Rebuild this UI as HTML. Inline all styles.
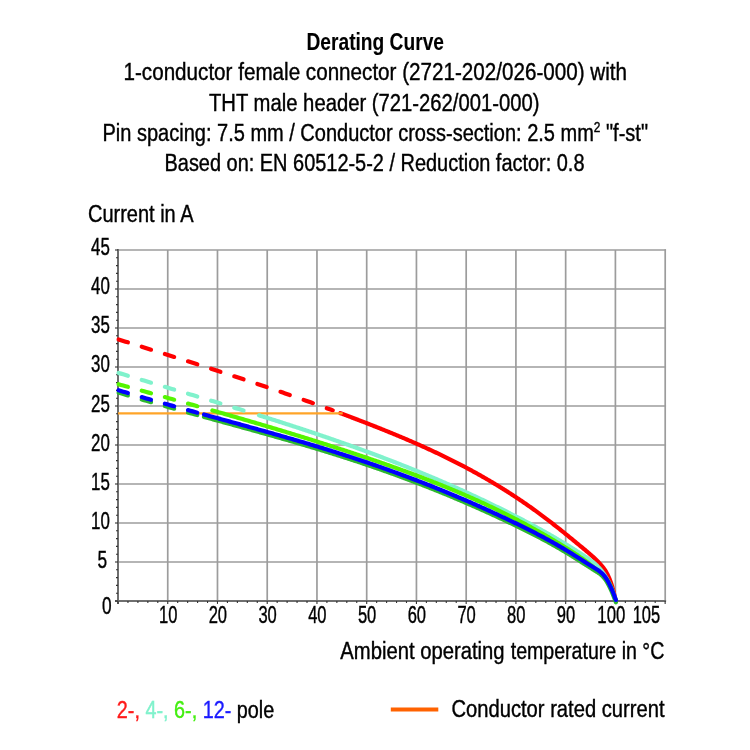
<!DOCTYPE html>
<html><head><meta charset="utf-8"><style>
html,body{margin:0;padding:0;background:#fff;}
svg{display:block;will-change:transform;}
text{font-family:"Liberation Sans", sans-serif;}
.t{stroke:#000;stroke-width:0.25px;}
</style></head><body>
<svg width="750" height="750" viewBox="0 0 750 750">
<rect width="750" height="750" fill="#fff"/>
<line x1="167.74" y1="250.00" x2="167.74" y2="601.00" stroke="#9c9c9c" stroke-width="1.7"/>
<line x1="217.48" y1="250.00" x2="217.48" y2="601.00" stroke="#9c9c9c" stroke-width="1.7"/>
<line x1="267.22" y1="250.00" x2="267.22" y2="601.00" stroke="#9c9c9c" stroke-width="1.7"/>
<line x1="316.96" y1="250.00" x2="316.96" y2="601.00" stroke="#9c9c9c" stroke-width="1.7"/>
<line x1="366.70" y1="250.00" x2="366.70" y2="601.00" stroke="#9c9c9c" stroke-width="1.7"/>
<line x1="416.44" y1="250.00" x2="416.44" y2="601.00" stroke="#9c9c9c" stroke-width="1.7"/>
<line x1="466.18" y1="250.00" x2="466.18" y2="601.00" stroke="#9c9c9c" stroke-width="1.7"/>
<line x1="515.92" y1="250.00" x2="515.92" y2="601.00" stroke="#9c9c9c" stroke-width="1.7"/>
<line x1="565.66" y1="250.00" x2="565.66" y2="601.00" stroke="#9c9c9c" stroke-width="1.7"/>
<line x1="615.40" y1="250.00" x2="615.40" y2="601.00" stroke="#9c9c9c" stroke-width="1.7"/>
<line x1="665.20" y1="249.15" x2="665.20" y2="601.00" stroke="#9c9c9c" stroke-width="1.7"/>
<line x1="118.00" y1="562.00" x2="666.05" y2="562.00" stroke="#9c9c9c" stroke-width="1.7"/>
<line x1="118.00" y1="523.00" x2="666.05" y2="523.00" stroke="#9c9c9c" stroke-width="1.7"/>
<line x1="118.00" y1="484.00" x2="666.05" y2="484.00" stroke="#9c9c9c" stroke-width="1.7"/>
<line x1="118.00" y1="445.00" x2="666.05" y2="445.00" stroke="#9c9c9c" stroke-width="1.7"/>
<line x1="118.00" y1="406.00" x2="666.05" y2="406.00" stroke="#9c9c9c" stroke-width="1.7"/>
<line x1="118.00" y1="367.00" x2="666.05" y2="367.00" stroke="#9c9c9c" stroke-width="1.7"/>
<line x1="118.00" y1="328.00" x2="666.05" y2="328.00" stroke="#9c9c9c" stroke-width="1.7"/>
<line x1="118.00" y1="289.00" x2="666.05" y2="289.00" stroke="#9c9c9c" stroke-width="1.7"/>
<line x1="118.00" y1="250.00" x2="666.05" y2="250.00" stroke="#9c9c9c" stroke-width="1.7"/>
<line x1="118.00" y1="249.00" x2="118.00" y2="604.00" stroke="#6e6e6e" stroke-width="2"/>
<line x1="115.00" y1="601.00" x2="666.10" y2="601.00" stroke="#6e6e6e" stroke-width="2"/>
<line x1="115.00" y1="601.00" x2="118.00" y2="601.00" stroke="#333" stroke-width="1.1"/>
<line x1="116.00" y1="593.20" x2="118.00" y2="593.20" stroke="#333" stroke-width="1.1"/>
<line x1="116.00" y1="585.40" x2="118.00" y2="585.40" stroke="#333" stroke-width="1.1"/>
<line x1="116.00" y1="577.60" x2="118.00" y2="577.60" stroke="#333" stroke-width="1.1"/>
<line x1="116.00" y1="569.80" x2="118.00" y2="569.80" stroke="#333" stroke-width="1.1"/>
<line x1="115.00" y1="562.00" x2="118.00" y2="562.00" stroke="#333" stroke-width="1.1"/>
<line x1="116.00" y1="554.20" x2="118.00" y2="554.20" stroke="#333" stroke-width="1.1"/>
<line x1="116.00" y1="546.40" x2="118.00" y2="546.40" stroke="#333" stroke-width="1.1"/>
<line x1="116.00" y1="538.60" x2="118.00" y2="538.60" stroke="#333" stroke-width="1.1"/>
<line x1="116.00" y1="530.80" x2="118.00" y2="530.80" stroke="#333" stroke-width="1.1"/>
<line x1="115.00" y1="523.00" x2="118.00" y2="523.00" stroke="#333" stroke-width="1.1"/>
<line x1="116.00" y1="515.20" x2="118.00" y2="515.20" stroke="#333" stroke-width="1.1"/>
<line x1="116.00" y1="507.40" x2="118.00" y2="507.40" stroke="#333" stroke-width="1.1"/>
<line x1="116.00" y1="499.60" x2="118.00" y2="499.60" stroke="#333" stroke-width="1.1"/>
<line x1="116.00" y1="491.80" x2="118.00" y2="491.80" stroke="#333" stroke-width="1.1"/>
<line x1="115.00" y1="484.00" x2="118.00" y2="484.00" stroke="#333" stroke-width="1.1"/>
<line x1="116.00" y1="476.20" x2="118.00" y2="476.20" stroke="#333" stroke-width="1.1"/>
<line x1="116.00" y1="468.40" x2="118.00" y2="468.40" stroke="#333" stroke-width="1.1"/>
<line x1="116.00" y1="460.60" x2="118.00" y2="460.60" stroke="#333" stroke-width="1.1"/>
<line x1="116.00" y1="452.80" x2="118.00" y2="452.80" stroke="#333" stroke-width="1.1"/>
<line x1="115.00" y1="445.00" x2="118.00" y2="445.00" stroke="#333" stroke-width="1.1"/>
<line x1="116.00" y1="437.20" x2="118.00" y2="437.20" stroke="#333" stroke-width="1.1"/>
<line x1="116.00" y1="429.40" x2="118.00" y2="429.40" stroke="#333" stroke-width="1.1"/>
<line x1="116.00" y1="421.60" x2="118.00" y2="421.60" stroke="#333" stroke-width="1.1"/>
<line x1="116.00" y1="413.80" x2="118.00" y2="413.80" stroke="#333" stroke-width="1.1"/>
<line x1="115.00" y1="406.00" x2="118.00" y2="406.00" stroke="#333" stroke-width="1.1"/>
<line x1="116.00" y1="398.20" x2="118.00" y2="398.20" stroke="#333" stroke-width="1.1"/>
<line x1="116.00" y1="390.40" x2="118.00" y2="390.40" stroke="#333" stroke-width="1.1"/>
<line x1="116.00" y1="382.60" x2="118.00" y2="382.60" stroke="#333" stroke-width="1.1"/>
<line x1="116.00" y1="374.80" x2="118.00" y2="374.80" stroke="#333" stroke-width="1.1"/>
<line x1="115.00" y1="367.00" x2="118.00" y2="367.00" stroke="#333" stroke-width="1.1"/>
<line x1="116.00" y1="359.20" x2="118.00" y2="359.20" stroke="#333" stroke-width="1.1"/>
<line x1="116.00" y1="351.40" x2="118.00" y2="351.40" stroke="#333" stroke-width="1.1"/>
<line x1="116.00" y1="343.60" x2="118.00" y2="343.60" stroke="#333" stroke-width="1.1"/>
<line x1="116.00" y1="335.80" x2="118.00" y2="335.80" stroke="#333" stroke-width="1.1"/>
<line x1="115.00" y1="328.00" x2="118.00" y2="328.00" stroke="#333" stroke-width="1.1"/>
<line x1="116.00" y1="320.20" x2="118.00" y2="320.20" stroke="#333" stroke-width="1.1"/>
<line x1="116.00" y1="312.40" x2="118.00" y2="312.40" stroke="#333" stroke-width="1.1"/>
<line x1="116.00" y1="304.60" x2="118.00" y2="304.60" stroke="#333" stroke-width="1.1"/>
<line x1="116.00" y1="296.80" x2="118.00" y2="296.80" stroke="#333" stroke-width="1.1"/>
<line x1="115.00" y1="289.00" x2="118.00" y2="289.00" stroke="#333" stroke-width="1.1"/>
<line x1="116.00" y1="281.20" x2="118.00" y2="281.20" stroke="#333" stroke-width="1.1"/>
<line x1="116.00" y1="273.40" x2="118.00" y2="273.40" stroke="#333" stroke-width="1.1"/>
<line x1="116.00" y1="265.60" x2="118.00" y2="265.60" stroke="#333" stroke-width="1.1"/>
<line x1="116.00" y1="257.80" x2="118.00" y2="257.80" stroke="#333" stroke-width="1.1"/>
<line x1="115.00" y1="250.00" x2="118.00" y2="250.00" stroke="#333" stroke-width="1.1"/>
<line x1="118.00" y1="601.00" x2="118.00" y2="603.90" stroke="#333" stroke-width="1.1"/>
<line x1="127.95" y1="601.00" x2="127.95" y2="603.00" stroke="#333" stroke-width="1.1"/>
<line x1="137.90" y1="601.00" x2="137.90" y2="603.00" stroke="#333" stroke-width="1.1"/>
<line x1="147.84" y1="601.00" x2="147.84" y2="603.00" stroke="#333" stroke-width="1.1"/>
<line x1="157.79" y1="601.00" x2="157.79" y2="603.00" stroke="#333" stroke-width="1.1"/>
<line x1="167.74" y1="601.00" x2="167.74" y2="603.90" stroke="#333" stroke-width="1.1"/>
<line x1="177.69" y1="601.00" x2="177.69" y2="603.00" stroke="#333" stroke-width="1.1"/>
<line x1="187.64" y1="601.00" x2="187.64" y2="603.00" stroke="#333" stroke-width="1.1"/>
<line x1="197.58" y1="601.00" x2="197.58" y2="603.00" stroke="#333" stroke-width="1.1"/>
<line x1="207.53" y1="601.00" x2="207.53" y2="603.00" stroke="#333" stroke-width="1.1"/>
<line x1="217.48" y1="601.00" x2="217.48" y2="603.90" stroke="#333" stroke-width="1.1"/>
<line x1="227.43" y1="601.00" x2="227.43" y2="603.00" stroke="#333" stroke-width="1.1"/>
<line x1="237.38" y1="601.00" x2="237.38" y2="603.00" stroke="#333" stroke-width="1.1"/>
<line x1="247.32" y1="601.00" x2="247.32" y2="603.00" stroke="#333" stroke-width="1.1"/>
<line x1="257.27" y1="601.00" x2="257.27" y2="603.00" stroke="#333" stroke-width="1.1"/>
<line x1="267.22" y1="601.00" x2="267.22" y2="603.90" stroke="#333" stroke-width="1.1"/>
<line x1="277.17" y1="601.00" x2="277.17" y2="603.00" stroke="#333" stroke-width="1.1"/>
<line x1="287.12" y1="601.00" x2="287.12" y2="603.00" stroke="#333" stroke-width="1.1"/>
<line x1="297.06" y1="601.00" x2="297.06" y2="603.00" stroke="#333" stroke-width="1.1"/>
<line x1="307.01" y1="601.00" x2="307.01" y2="603.00" stroke="#333" stroke-width="1.1"/>
<line x1="316.96" y1="601.00" x2="316.96" y2="603.90" stroke="#333" stroke-width="1.1"/>
<line x1="326.91" y1="601.00" x2="326.91" y2="603.00" stroke="#333" stroke-width="1.1"/>
<line x1="336.86" y1="601.00" x2="336.86" y2="603.00" stroke="#333" stroke-width="1.1"/>
<line x1="346.80" y1="601.00" x2="346.80" y2="603.00" stroke="#333" stroke-width="1.1"/>
<line x1="356.75" y1="601.00" x2="356.75" y2="603.00" stroke="#333" stroke-width="1.1"/>
<line x1="366.70" y1="601.00" x2="366.70" y2="603.90" stroke="#333" stroke-width="1.1"/>
<line x1="376.65" y1="601.00" x2="376.65" y2="603.00" stroke="#333" stroke-width="1.1"/>
<line x1="386.60" y1="601.00" x2="386.60" y2="603.00" stroke="#333" stroke-width="1.1"/>
<line x1="396.54" y1="601.00" x2="396.54" y2="603.00" stroke="#333" stroke-width="1.1"/>
<line x1="406.49" y1="601.00" x2="406.49" y2="603.00" stroke="#333" stroke-width="1.1"/>
<line x1="416.44" y1="601.00" x2="416.44" y2="603.90" stroke="#333" stroke-width="1.1"/>
<line x1="426.39" y1="601.00" x2="426.39" y2="603.00" stroke="#333" stroke-width="1.1"/>
<line x1="436.34" y1="601.00" x2="436.34" y2="603.00" stroke="#333" stroke-width="1.1"/>
<line x1="446.28" y1="601.00" x2="446.28" y2="603.00" stroke="#333" stroke-width="1.1"/>
<line x1="456.23" y1="601.00" x2="456.23" y2="603.00" stroke="#333" stroke-width="1.1"/>
<line x1="466.18" y1="601.00" x2="466.18" y2="603.90" stroke="#333" stroke-width="1.1"/>
<line x1="476.13" y1="601.00" x2="476.13" y2="603.00" stroke="#333" stroke-width="1.1"/>
<line x1="486.08" y1="601.00" x2="486.08" y2="603.00" stroke="#333" stroke-width="1.1"/>
<line x1="496.02" y1="601.00" x2="496.02" y2="603.00" stroke="#333" stroke-width="1.1"/>
<line x1="505.97" y1="601.00" x2="505.97" y2="603.00" stroke="#333" stroke-width="1.1"/>
<line x1="515.92" y1="601.00" x2="515.92" y2="603.90" stroke="#333" stroke-width="1.1"/>
<line x1="525.87" y1="601.00" x2="525.87" y2="603.00" stroke="#333" stroke-width="1.1"/>
<line x1="535.82" y1="601.00" x2="535.82" y2="603.00" stroke="#333" stroke-width="1.1"/>
<line x1="545.76" y1="601.00" x2="545.76" y2="603.00" stroke="#333" stroke-width="1.1"/>
<line x1="555.71" y1="601.00" x2="555.71" y2="603.00" stroke="#333" stroke-width="1.1"/>
<line x1="565.66" y1="601.00" x2="565.66" y2="603.90" stroke="#333" stroke-width="1.1"/>
<line x1="575.61" y1="601.00" x2="575.61" y2="603.00" stroke="#333" stroke-width="1.1"/>
<line x1="585.56" y1="601.00" x2="585.56" y2="603.00" stroke="#333" stroke-width="1.1"/>
<line x1="595.50" y1="601.00" x2="595.50" y2="603.00" stroke="#333" stroke-width="1.1"/>
<line x1="605.45" y1="601.00" x2="605.45" y2="603.00" stroke="#333" stroke-width="1.1"/>
<line x1="615.40" y1="601.00" x2="615.40" y2="603.90" stroke="#333" stroke-width="1.1"/>
<line x1="625.35" y1="601.00" x2="625.35" y2="603.00" stroke="#333" stroke-width="1.1"/>
<line x1="635.30" y1="601.00" x2="635.30" y2="603.00" stroke="#333" stroke-width="1.1"/>
<line x1="645.24" y1="601.00" x2="645.24" y2="603.00" stroke="#333" stroke-width="1.1"/>
<line x1="655.19" y1="601.00" x2="655.19" y2="603.00" stroke="#333" stroke-width="1.1"/>
<line x1="665.14" y1="601.00" x2="665.14" y2="603.90" stroke="#333" stroke-width="1.1"/>
<polyline points="118.60,339.43 120.92,340.16 123.25,340.90 125.57,341.63 127.90,342.36" fill="none" stroke="#ff0000" stroke-width="4.2" stroke-linecap="round" stroke-linejoin="round"/>
<polyline points="141.73,346.72 144.06,347.45 146.38,348.19 148.70,348.92 151.03,349.65" fill="none" stroke="#ff0000" stroke-width="4.2" stroke-linecap="round" stroke-linejoin="round"/>
<polyline points="164.86,354.02 167.19,354.75 169.51,355.49 171.83,356.23 174.16,356.96" fill="none" stroke="#ff0000" stroke-width="4.2" stroke-linecap="round" stroke-linejoin="round"/>
<polyline points="187.99,361.36 190.31,362.10 192.64,362.84 194.97,363.58 197.29,364.32" fill="none" stroke="#ff0000" stroke-width="4.2" stroke-linecap="round" stroke-linejoin="round"/>
<polyline points="211.12,368.77 213.44,369.52 215.77,370.27 218.10,371.02 220.42,371.78" fill="none" stroke="#ff0000" stroke-width="4.2" stroke-linecap="round" stroke-linejoin="round"/>
<polyline points="234.25,376.29 236.57,377.05 238.90,377.81 241.23,378.58 243.55,379.35" fill="none" stroke="#ff0000" stroke-width="4.2" stroke-linecap="round" stroke-linejoin="round"/>
<polyline points="257.38,383.95 259.70,384.73 262.03,385.51 264.36,386.30 266.68,387.08" fill="none" stroke="#ff0000" stroke-width="4.2" stroke-linecap="round" stroke-linejoin="round"/>
<polyline points="280.51,391.80 282.83,392.60 285.16,393.40 287.49,394.20 289.81,395.01" fill="none" stroke="#ff0000" stroke-width="4.2" stroke-linecap="round" stroke-linejoin="round"/>
<polyline points="303.64,399.86 305.96,400.68 308.29,401.51 310.62,402.33 312.94,403.16" fill="none" stroke="#ff0000" stroke-width="4.2" stroke-linecap="round" stroke-linejoin="round"/>
<polyline points="326.77,408.17 328.28,408.72 329.78,409.27 331.29,409.82 332.80,410.38" fill="none" stroke="#ff0000" stroke-width="4.2" stroke-linecap="round" stroke-linejoin="round"/>
<polyline points="340.30,413.16 341.30,413.53 342.30,413.90 343.30,414.28 344.30,414.65 345.30,415.03 346.30,415.40 347.30,415.78 348.30,416.16 349.30,416.53 350.30,416.91 351.30,417.29 352.30,417.67 353.30,418.05 354.31,418.43 355.31,418.81 356.31,419.20 357.31,419.58 358.31,419.96 359.31,420.34 360.31,420.73 361.31,421.11 362.31,421.50 363.31,421.89 364.31,422.27 365.31,422.66 366.31,423.05 367.31,423.44 368.31,423.83 369.31,424.22 370.31,424.61 371.31,425.00 372.31,425.39 373.31,425.79 374.31,426.18 375.31,426.57 376.31,426.97 377.31,427.37 378.31,427.76 379.31,428.16 380.31,428.56 381.31,428.96 382.32,429.36 383.32,429.76 384.32,430.16 385.32,430.57 386.32,430.97 387.32,431.38 388.32,431.78 389.32,432.19 390.32,432.60 391.32,433.01 392.32,433.42 393.32,433.83 394.32,434.24 395.32,434.65 396.32,435.07 397.32,435.48 398.32,435.90 399.32,436.32 400.32,436.74 401.32,437.16 402.32,437.58 403.32,438.00 404.32,438.42 405.32,438.85 406.32,439.28 407.32,439.70 408.32,440.13 409.33,440.56 410.33,440.99 411.33,441.43 412.33,441.86 413.33,442.30 414.33,442.73 415.33,443.17 416.33,443.61 417.33,444.05 418.33,444.50 419.33,444.94 420.33,445.39 421.33,445.83 422.33,446.28 423.33,446.73 424.33,447.18 425.33,447.64 426.33,448.09 427.33,448.55 428.33,449.01 429.33,449.47 430.33,449.93 431.33,450.39 432.33,450.85 433.33,451.32 434.33,451.79 435.33,452.26 436.33,452.73 437.34,453.20 438.34,453.68 439.34,454.16 440.34,454.63 441.34,455.12 442.34,455.60 443.34,456.08 444.34,456.57 445.34,457.06 446.34,457.55 447.34,458.04 448.34,458.53 449.34,459.03 450.34,459.52 451.34,460.02 452.34,460.52 453.34,461.03 454.34,461.53 455.34,462.04 456.34,462.55 457.34,463.06 458.34,463.58 459.34,464.09 460.34,464.61 461.34,465.13 462.34,465.65 463.34,466.18 464.35,466.70 465.35,467.23 466.35,467.76 467.35,468.30 468.35,468.83 469.35,469.37 470.35,469.91 471.35,470.45 472.35,471.00 473.35,471.55 474.35,472.10 475.35,472.65 476.35,473.20 477.35,473.76 478.35,474.32 479.35,474.88 480.35,475.44 481.35,476.01 482.35,476.58 483.35,477.15 484.35,477.72 485.35,478.30 486.35,478.88 487.35,479.46 488.35,480.04 489.35,480.63 490.35,481.22 491.35,481.81 492.36,482.40 493.36,483.00 494.36,483.60 495.36,484.20 496.36,484.81 497.36,485.41 498.36,486.02 499.36,486.64 500.36,487.25 501.36,487.87 502.36,488.49 503.36,489.12 504.36,489.75 505.36,490.38 506.36,491.01 507.36,491.64 508.36,492.28 509.36,492.92 510.36,493.57 511.36,494.22 512.36,494.87 513.36,495.52 514.36,496.17 515.36,496.83 516.36,497.50 517.36,498.16 518.36,498.83 519.37,499.50 520.37,500.18 521.37,500.85 522.37,501.53 523.37,502.22 524.37,502.90 525.37,503.59 526.37,504.29 527.37,504.98 528.37,505.68 529.37,506.39 530.37,507.09 531.37,507.80 532.37,508.51 533.37,509.23 534.37,509.95 535.37,510.67 536.37,511.40 537.37,512.13 538.37,512.86 539.37,513.59 540.37,514.33 541.37,515.08 542.37,515.82 543.37,516.57 544.37,517.32 545.37,518.08 546.37,518.84 547.38,519.60 548.38,520.37 549.38,521.13 550.38,521.90 551.38,522.68 552.38,523.45 553.38,524.23 554.38,525.02 555.38,525.80 556.38,526.59 557.38,527.38 558.38,528.17 559.38,528.96 560.38,529.76 561.38,530.56 562.38,531.36 563.38,532.16 564.38,532.97 565.38,533.77 566.38,534.58 567.38,535.39 568.38,536.21 569.38,537.02 570.38,537.84 571.38,538.66 572.38,539.47 573.38,540.30 574.39,541.12 575.39,541.94 576.39,542.77 577.39,543.59 578.39,544.42 579.39,545.25 580.39,546.08 581.39,546.91 582.39,547.74 583.39,548.58 584.39,549.41 585.39,550.24 586.39,551.08 587.39,551.92 588.39,552.77 589.39,553.62 590.39,554.48 591.39,555.36 592.39,556.25 593.39,557.16 594.39,558.09 595.39,559.04 596.39,560.02 597.39,561.02 598.39,562.05 599.39,563.11 600.39,564.20 601.39,565.33 602.40,566.53 603.40,567.80 604.40,569.18 605.40,570.70 606.40,572.37 607.40,574.23 608.40,576.30 609.40,578.60 610.40,581.17 611.40,584.02 612.40,587.22 613.40,590.84 614.40,594.94 615.40,599.59" fill="none" stroke="#ff0000" stroke-width="4.2" stroke-linecap="round" stroke-linejoin="round"/>
<line x1="118.00" y1="413.4" x2="342.7" y2="413.4" stroke="#ffa428" stroke-width="2.4"/>
<polyline points="118.60,372.92 120.92,373.63 123.25,374.33 125.57,375.04 127.90,375.74" fill="none" stroke="#80f2cc" stroke-width="4.2" stroke-linecap="round" stroke-linejoin="round"/>
<polyline points="141.73,379.90 144.06,380.60 146.38,381.29 148.70,381.99 151.03,382.68" fill="none" stroke="#80f2cc" stroke-width="4.2" stroke-linecap="round" stroke-linejoin="round"/>
<polyline points="164.86,386.82 167.19,387.51 169.51,388.20 171.83,388.90 174.16,389.59" fill="none" stroke="#80f2cc" stroke-width="4.2" stroke-linecap="round" stroke-linejoin="round"/>
<polyline points="187.99,393.72 190.31,394.42 192.64,395.11 194.97,395.81 197.29,396.50" fill="none" stroke="#80f2cc" stroke-width="4.2" stroke-linecap="round" stroke-linejoin="round"/>
<polyline points="211.12,400.66 213.44,401.36 215.77,402.06 218.10,402.76 220.42,403.46" fill="none" stroke="#80f2cc" stroke-width="4.2" stroke-linecap="round" stroke-linejoin="round"/>
<polyline points="234.25,407.67 236.57,408.38 238.90,409.09 241.23,409.81 243.55,410.52" fill="none" stroke="#80f2cc" stroke-width="4.2" stroke-linecap="round" stroke-linejoin="round"/>
<polyline points="259.00,415.31 260.00,415.62 261.00,415.94 262.00,416.25 263.00,416.57 264.01,416.88 265.01,417.19 266.01,417.51 267.01,417.82 268.01,418.14 269.01,418.46 270.01,418.77 271.01,419.09 272.01,419.41 273.02,419.72 274.02,420.04 275.02,420.36 276.02,420.68 277.02,421.00 278.02,421.32 279.02,421.63 280.02,421.95 281.02,422.28 282.03,422.60 283.03,422.92 284.03,423.24 285.03,423.56 286.03,423.88 287.03,424.21 288.03,424.53 289.03,424.85 290.03,425.18 291.04,425.50 292.04,425.83 293.04,426.15 294.04,426.48 295.04,426.80 296.04,427.13 297.04,427.46 298.04,427.79 299.04,428.11 300.05,428.44 301.05,428.77 302.05,429.10 303.05,429.43 304.05,429.76 305.05,430.09 306.05,430.43 307.05,430.76 308.06,431.09 309.06,431.42 310.06,431.76 311.06,432.09 312.06,432.42 313.06,432.76 314.06,433.10 315.06,433.43 316.06,433.77 317.07,434.10 318.07,434.44 319.07,434.78 320.07,435.12 321.07,435.46 322.07,435.80 323.07,436.14 324.07,436.48 325.07,436.82 326.08,437.16 327.08,437.51 328.08,437.85 329.08,438.19 330.08,438.54 331.08,438.88 332.08,439.23 333.08,439.57 334.08,439.92 335.09,440.27 336.09,440.62 337.09,440.96 338.09,441.31 339.09,441.66 340.09,442.01 341.09,442.36 342.09,442.72 343.09,443.07 344.10,443.42 345.10,443.77 346.10,444.13 347.10,444.48 348.10,444.84 349.10,445.19 350.10,445.55 351.10,445.91 352.10,446.27 353.11,446.62 354.11,446.98 355.11,447.34 356.11,447.70 357.11,448.07 358.11,448.43 359.11,448.79 360.11,449.15 361.11,449.52 362.12,449.88 363.12,450.25 364.12,450.61 365.12,450.98 366.12,451.35 367.12,451.72 368.12,452.08 369.12,452.45 370.12,452.82 371.13,453.20 372.13,453.57 373.13,453.94 374.13,454.31 375.13,454.69 376.13,455.06 377.13,455.44 378.13,455.81 379.13,456.19 380.14,456.57 381.14,456.95 382.14,457.33 383.14,457.71 384.14,458.09 385.14,458.47 386.14,458.85 387.14,459.23 388.14,459.62 389.15,460.00 390.15,460.39 391.15,460.78 392.15,461.16 393.15,461.55 394.15,461.94 395.15,462.33 396.15,462.72 397.16,463.11 398.16,463.50 399.16,463.90 400.16,464.29 401.16,464.68 402.16,465.08 403.16,465.48 404.16,465.87 405.16,466.27 406.17,466.67 407.17,467.07 408.17,467.47 409.17,467.87 410.17,468.27 411.17,468.68 412.17,469.08 413.17,469.49 414.17,469.89 415.18,470.30 416.18,470.71 417.18,471.11 418.18,471.52 419.18,471.93 420.18,472.34 421.18,472.76 422.18,473.17 423.18,473.58 424.19,474.00 425.19,474.41 426.19,474.83 427.19,475.25 428.19,475.67 429.19,476.09 430.19,476.51 431.19,476.93 432.19,477.35 433.20,477.77 434.20,478.20 435.20,478.62 436.20,479.05 437.20,479.48 438.20,479.90 439.20,480.33 440.20,480.76 441.20,481.19 442.21,481.63 443.21,482.06 444.21,482.49 445.21,482.93 446.21,483.36 447.21,483.80 448.21,484.24 449.21,484.68 450.21,485.12 451.22,485.56 452.22,486.00 453.22,486.44 454.22,486.89 455.22,487.33 456.22,487.78 457.22,488.23 458.22,488.67 459.22,489.12 460.23,489.57 461.23,490.02 462.23,490.48 463.23,490.93 464.23,491.39 465.23,491.84 466.23,492.30 467.23,492.76 468.23,493.21 469.24,493.67 470.24,494.14 471.24,494.60 472.24,495.06 473.24,495.53 474.24,495.99 475.24,496.46 476.24,496.92 477.24,497.39 478.25,497.86 479.25,498.33 480.25,498.81 481.25,499.28 482.25,499.75 483.25,500.23 484.25,500.71 485.25,501.18 486.26,501.66 487.26,502.14 488.26,502.62 489.26,503.11 490.26,503.59 491.26,504.07 492.26,504.56 493.26,505.05 494.26,505.54 495.27,506.03 496.27,506.52 497.27,507.01 498.27,507.50 499.27,508.00 500.27,508.49 501.27,508.99 502.27,509.48 503.27,509.98 504.28,510.48 505.28,510.99 506.28,511.49 507.28,511.99 508.28,512.50 509.28,513.00 510.28,513.51 511.28,514.02 512.28,514.53 513.29,515.04 514.29,515.55 515.29,516.07 516.29,516.58 517.29,517.10 518.29,517.62 519.29,518.14 520.29,518.66 521.29,519.18 522.30,519.70 523.30,520.22 524.30,520.75 525.30,521.28 526.30,521.81 527.30,522.34 528.30,522.87 529.30,523.40 530.30,523.94 531.31,524.48 532.31,525.01 533.31,525.55 534.31,526.10 535.31,526.64 536.31,527.19 537.31,527.73 538.31,528.28 539.31,528.83 540.32,529.39 541.32,529.94 542.32,530.50 543.32,531.06 544.32,531.62 545.32,532.18 546.32,532.74 547.32,533.31 548.32,533.88 549.33,534.45 550.33,535.03 551.33,535.60 552.33,536.18 553.33,536.76 554.33,537.34 555.33,537.93 556.33,538.51 557.33,539.10 558.34,539.69 559.34,540.29 560.34,540.88 561.34,541.48 562.34,542.08 563.34,542.69 564.34,543.29 565.34,543.90 566.34,544.51 567.35,545.13 568.35,545.75 569.35,546.37 570.35,546.99 571.35,547.61 572.35,548.24 573.35,548.87 574.35,549.50 575.36,550.14 576.36,550.78 577.36,551.42 578.36,552.07 579.36,552.71 580.36,553.37 581.36,554.02 582.36,554.68 583.36,555.34 584.37,556.00 585.37,556.66 586.37,557.33 587.37,558.01 588.37,558.70 589.37,559.40 590.37,560.12 591.37,560.87 592.37,561.64 593.38,562.45 594.38,563.30 595.38,564.18 596.38,565.12 597.38,566.10 598.38,567.13 599.38,568.23 600.38,569.39 601.38,570.62 602.39,571.91 603.39,573.29 604.39,574.74 605.39,576.28 606.39,577.91 607.39,579.64 608.39,581.47 609.39,583.44 610.39,585.58 611.40,587.91 612.40,590.46 613.40,593.26 614.40,596.34 615.40,599.72" fill="none" stroke="#80f2cc" stroke-width="4.2" stroke-linecap="round" stroke-linejoin="round"/>
<polyline points="118.60,384.26 120.92,384.90 123.25,385.55 125.57,386.19 127.90,386.84" fill="none" stroke="#55f500" stroke-width="4.2" stroke-linecap="round" stroke-linejoin="round"/>
<polyline points="141.73,390.68 144.06,391.32 146.38,391.97 148.70,392.61 151.03,393.26" fill="none" stroke="#55f500" stroke-width="4.2" stroke-linecap="round" stroke-linejoin="round"/>
<polyline points="164.86,397.10 167.19,397.75 169.51,398.40 171.83,399.04 174.16,399.69" fill="none" stroke="#55f500" stroke-width="4.2" stroke-linecap="round" stroke-linejoin="round"/>
<polyline points="187.99,403.56 190.31,404.22 192.64,404.87 194.97,405.52 197.29,406.18" fill="none" stroke="#55f500" stroke-width="4.2" stroke-linecap="round" stroke-linejoin="round"/>
<polyline points="212.40,410.45 213.40,410.74 214.40,411.02 215.40,411.31 216.40,411.59 217.41,411.88 218.41,412.16 219.41,412.45 220.41,412.74 221.41,413.02 222.41,413.31 223.41,413.59 224.41,413.88 225.42,414.17 226.42,414.45 227.42,414.74 228.42,415.03 229.42,415.32 230.42,415.61 231.42,415.89 232.42,416.18 233.43,416.47 234.43,416.76 235.43,417.05 236.43,417.34 237.43,417.63 238.43,417.92 239.43,418.21 240.43,418.50 241.44,418.79 242.44,419.08 243.44,419.37 244.44,419.66 245.44,419.95 246.44,420.24 247.44,420.54 248.44,420.83 249.45,421.12 250.45,421.41 251.45,421.71 252.45,422.00 253.45,422.29 254.45,422.59 255.45,422.88 256.45,423.18 257.46,423.47 258.46,423.77 259.46,424.06 260.46,424.36 261.46,424.65 262.46,424.95 263.46,425.25 264.46,425.54 265.47,425.84 266.47,426.14 267.47,426.43 268.47,426.73 269.47,427.03 270.47,427.33 271.47,427.63 272.47,427.93 273.48,428.23 274.48,428.53 275.48,428.83 276.48,429.13 277.48,429.43 278.48,429.73 279.48,430.03 280.48,430.33 281.49,430.63 282.49,430.93 283.49,431.24 284.49,431.54 285.49,431.84 286.49,432.15 287.49,432.45 288.49,432.76 289.50,433.06 290.50,433.37 291.50,433.67 292.50,433.98 293.50,434.28 294.50,434.59 295.50,434.90 296.50,435.20 297.50,435.51 298.51,435.82 299.51,436.13 300.51,436.44 301.51,436.75 302.51,437.05 303.51,437.36 304.51,437.68 305.51,437.99 306.52,438.30 307.52,438.61 308.52,438.92 309.52,439.23 310.52,439.54 311.52,439.86 312.52,440.17 313.52,440.48 314.53,440.80 315.53,441.11 316.53,441.43 317.53,441.74 318.53,442.06 319.53,442.38 320.53,442.69 321.53,443.01 322.54,443.33 323.54,443.65 324.54,443.96 325.54,444.28 326.54,444.60 327.54,444.92 328.54,445.24 329.54,445.56 330.55,445.88 331.55,446.21 332.55,446.53 333.55,446.85 334.55,447.17 335.55,447.50 336.55,447.82 337.55,448.14 338.56,448.47 339.56,448.79 340.56,449.12 341.56,449.45 342.56,449.77 343.56,450.10 344.56,450.43 345.56,450.75 346.57,451.08 347.57,451.41 348.57,451.74 349.57,452.07 350.57,452.40 351.57,452.73 352.57,453.06 353.57,453.40 354.58,453.73 355.58,454.06 356.58,454.39 357.58,454.73 358.58,455.06 359.58,455.40 360.58,455.73 361.58,456.07 362.59,456.41 363.59,456.74 364.59,457.08 365.59,457.42 366.59,457.76 367.59,458.10 368.59,458.43 369.59,458.77 370.60,459.12 371.60,459.46 372.60,459.80 373.60,460.14 374.60,460.48 375.60,460.83 376.60,461.17 377.60,461.52 378.60,461.86 379.61,462.21 380.61,462.56 381.61,462.90 382.61,463.25 383.61,463.60 384.61,463.95 385.61,464.30 386.61,464.65 387.62,465.00 388.62,465.35 389.62,465.71 390.62,466.06 391.62,466.41 392.62,466.77 393.62,467.13 394.62,467.48 395.63,467.84 396.63,468.20 397.63,468.56 398.63,468.92 399.63,469.28 400.63,469.64 401.63,470.00 402.63,470.37 403.64,470.73 404.64,471.09 405.64,471.46 406.64,471.83 407.64,472.20 408.64,472.56 409.64,472.93 410.64,473.30 411.65,473.68 412.65,474.05 413.65,474.42 414.65,474.80 415.65,475.17 416.65,475.55 417.65,475.92 418.65,476.30 419.66,476.68 420.66,477.06 421.66,477.44 422.66,477.82 423.66,478.21 424.66,478.59 425.66,478.98 426.66,479.36 427.67,479.75 428.67,480.14 429.67,480.53 430.67,480.92 431.67,481.31 432.67,481.71 433.67,482.10 434.67,482.50 435.68,482.89 436.68,483.29 437.68,483.69 438.68,484.09 439.68,484.49 440.68,484.89 441.68,485.30 442.68,485.70 443.69,486.11 444.69,486.51 445.69,486.92 446.69,487.33 447.69,487.74 448.69,488.16 449.69,488.57 450.69,488.98 451.69,489.40 452.70,489.82 453.70,490.24 454.70,490.66 455.70,491.08 456.70,491.50 457.70,491.93 458.70,492.35 459.70,492.78 460.71,493.21 461.71,493.64 462.71,494.07 463.71,494.50 464.71,494.94 465.71,495.37 466.71,495.81 467.71,496.25 468.72,496.69 469.72,497.13 470.72,497.57 471.72,498.01 472.72,498.46 473.72,498.91 474.72,499.36 475.72,499.81 476.73,500.26 477.73,500.71 478.73,501.17 479.73,501.62 480.73,502.08 481.73,502.54 482.73,503.00 483.73,503.46 484.74,503.93 485.74,504.39 486.74,504.86 487.74,505.33 488.74,505.80 489.74,506.28 490.74,506.75 491.74,507.23 492.75,507.70 493.75,508.18 494.75,508.66 495.75,509.15 496.75,509.63 497.75,510.12 498.75,510.60 499.75,511.09 500.76,511.59 501.76,512.08 502.76,512.57 503.76,513.07 504.76,513.57 505.76,514.07 506.76,514.57 507.76,515.07 508.77,515.58 509.77,516.09 510.77,516.60 511.77,517.11 512.77,517.62 513.77,518.14 514.77,518.65 515.77,519.17 516.78,519.69 517.78,520.22 518.78,520.74 519.78,521.27 520.78,521.80 521.78,522.33 522.78,522.86 523.78,523.39 524.79,523.93 525.79,524.47 526.79,525.01 527.79,525.55 528.79,526.09 529.79,526.64 530.79,527.19 531.79,527.74 532.79,528.29 533.80,528.85 534.80,529.40 535.80,529.96 536.80,530.52 537.80,531.08 538.80,531.65 539.80,532.22 540.80,532.78 541.81,533.36 542.81,533.93 543.81,534.51 544.81,535.08 545.81,535.66 546.81,536.24 547.81,536.83 548.81,537.42 549.82,538.00 550.82,538.59 551.82,539.19 552.82,539.78 553.82,540.38 554.82,540.98 555.82,541.58 556.82,542.19 557.83,542.79 558.83,543.40 559.83,544.01 560.83,544.63 561.83,545.24 562.83,545.86 563.83,546.48 564.83,547.10 565.84,547.73 566.84,548.36 567.84,548.99 568.84,549.62 569.84,550.26 570.84,550.90 571.84,551.54 572.84,552.19 573.85,552.85 574.85,553.51 575.85,554.17 576.85,554.85 577.85,555.52 578.85,556.21 579.85,556.90 580.85,557.60 581.86,558.30 582.86,559.02 583.86,559.74 584.86,560.47 585.86,561.21 586.86,561.96 587.86,562.72 588.86,563.49 589.87,564.28 590.87,565.07 591.87,565.87 592.87,566.68 593.87,567.51 594.87,568.35 595.87,569.20 596.87,570.07 597.88,570.94 598.88,571.84 599.88,572.74 600.88,573.66 601.88,574.60 602.88,575.55 603.88,576.51 604.88,577.49 605.89,578.49 606.89,579.56 607.89,580.79 608.89,582.30 609.89,584.18 610.89,586.55 611.89,589.33 612.89,592.30 613.89,595.20 614.90,597.79 615.90,599.82" fill="none" stroke="#55f500" stroke-width="4.2" stroke-linecap="round" stroke-linejoin="round"/>
<polyline points="118.60,392.67 120.92,393.36 123.25,394.06 125.57,394.75 127.90,395.43" fill="none" stroke="#2eb82e" stroke-width="4.2" stroke-linecap="round" stroke-linejoin="round"/>
<polyline points="141.73,399.47 144.06,400.14 146.38,400.81 148.70,401.48 151.03,402.14" fill="none" stroke="#2eb82e" stroke-width="4.2" stroke-linecap="round" stroke-linejoin="round"/>
<polyline points="164.86,406.06 167.19,406.71 169.51,407.36 171.83,408.01 174.16,408.66" fill="none" stroke="#2eb82e" stroke-width="4.2" stroke-linecap="round" stroke-linejoin="round"/>
<polyline points="187.99,412.49 190.31,413.14 192.64,413.78 194.97,414.42 197.29,415.06" fill="none" stroke="#2eb82e" stroke-width="4.2" stroke-linecap="round" stroke-linejoin="round"/>
<polyline points="204.00,416.90 205.00,417.17 206.00,417.45 207.01,417.72 208.01,418.00 209.01,418.27 210.01,418.55 211.02,418.82 212.02,419.10 213.02,419.37 214.02,419.65 215.02,419.92 216.03,420.20 217.03,420.47 218.03,420.74 219.03,421.02 220.03,421.29 221.04,421.57 222.04,421.84 223.04,422.12 224.04,422.39 225.05,422.67 226.05,422.94 227.05,423.22 228.05,423.49 229.05,423.77 230.06,424.04 231.06,424.32 232.06,424.59 233.06,424.87 234.07,425.15 235.07,425.42 236.07,425.70 237.07,425.97 238.07,426.25 239.08,426.53 240.08,426.80 241.08,427.08 242.08,427.35 243.09,427.63 244.09,427.91 245.09,428.19 246.09,428.46 247.09,428.74 248.10,429.02 249.10,429.30 250.10,429.57 251.10,429.85 252.10,430.13 253.11,430.41 254.11,430.69 255.11,430.97 256.11,431.25 257.12,431.53 258.12,431.81 259.12,432.09 260.12,432.37 261.12,432.65 262.13,432.93 263.13,433.21 264.13,433.49 265.13,433.77 266.14,434.05 267.14,434.34 268.14,434.62 269.14,434.90 270.14,435.19 271.15,435.47 272.15,435.75 273.15,436.04 274.15,436.32 275.16,436.61 276.16,436.89 277.16,437.18 278.16,437.46 279.16,437.75 280.17,438.03 281.17,438.32 282.17,438.61 283.17,438.90 284.17,439.18 285.18,439.47 286.18,439.76 287.18,440.05 288.18,440.34 289.19,440.63 290.19,440.92 291.19,441.21 292.19,441.50 293.19,441.79 294.20,442.09 295.20,442.38 296.20,442.67 297.20,442.97 298.21,443.26 299.21,443.55 300.21,443.85 301.21,444.15 302.21,444.44 303.22,444.74 304.22,445.03 305.22,445.33 306.22,445.63 307.22,445.93 308.23,446.23 309.23,446.53 310.23,446.83 311.23,447.13 312.24,447.43 313.24,447.73 314.24,448.03 315.24,448.34 316.24,448.64 317.25,448.94 318.25,449.25 319.25,449.55 320.25,449.86 321.26,450.16 322.26,450.47 323.26,450.78 324.26,451.09 325.26,451.40 326.27,451.70 327.27,452.01 328.27,452.33 329.27,452.64 330.28,452.95 331.28,453.26 332.28,453.57 333.28,453.89 334.28,454.20 335.29,454.52 336.29,454.83 337.29,455.15 338.29,455.47 339.29,455.79 340.30,456.10 341.30,456.42 342.30,456.74 343.30,457.06 344.31,457.39 345.31,457.71 346.31,458.03 347.31,458.36 348.31,458.68 349.32,459.00 350.32,459.33 351.32,459.66 352.32,459.99 353.33,460.31 354.33,460.64 355.33,460.97 356.33,461.30 357.33,461.63 358.34,461.97 359.34,462.30 360.34,462.63 361.34,462.97 362.34,463.30 363.35,463.64 364.35,463.98 365.35,464.32 366.35,464.65 367.36,464.99 368.36,465.33 369.36,465.68 370.36,466.02 371.36,466.36 372.37,466.71 373.37,467.05 374.37,467.40 375.37,467.74 376.38,468.09 377.38,468.44 378.38,468.79 379.38,469.14 380.38,469.49 381.39,469.84 382.39,470.19 383.39,470.55 384.39,470.90 385.40,471.26 386.40,471.61 387.40,471.97 388.40,472.33 389.40,472.69 390.41,473.05 391.41,473.41 392.41,473.77 393.41,474.13 394.41,474.50 395.42,474.86 396.42,475.23 397.42,475.59 398.42,475.96 399.43,476.33 400.43,476.70 401.43,477.07 402.43,477.44 403.43,477.81 404.44,478.18 405.44,478.56 406.44,478.93 407.44,479.31 408.45,479.68 409.45,480.06 410.45,480.44 411.45,480.82 412.45,481.20 413.46,481.58 414.46,481.96 415.46,482.34 416.46,482.73 417.47,483.11 418.47,483.50 419.47,483.88 420.47,484.27 421.47,484.66 422.48,485.05 423.48,485.44 424.48,485.83 425.48,486.22 426.48,486.62 427.49,487.01 428.49,487.41 429.49,487.80 430.49,488.20 431.50,488.60 432.50,489.00 433.50,489.40 434.50,489.80 435.50,490.20 436.51,490.60 437.51,491.01 438.51,491.41 439.51,491.82 440.52,492.22 441.52,492.63 442.52,493.04 443.52,493.45 444.52,493.86 445.53,494.27 446.53,494.68 447.53,495.10 448.53,495.51 449.53,495.93 450.54,496.35 451.54,496.76 452.54,497.18 453.54,497.60 454.55,498.02 455.55,498.44 456.55,498.87 457.55,499.29 458.55,499.72 459.56,500.14 460.56,500.57 461.56,501.00 462.56,501.42 463.57,501.85 464.57,502.28 465.57,502.72 466.57,503.15 467.57,503.58 468.58,504.02 469.58,504.45 470.58,504.89 471.58,505.33 472.59,505.77 473.59,506.21 474.59,506.65 475.59,507.09 476.59,507.53 477.60,507.98 478.60,508.42 479.60,508.87 480.60,509.32 481.60,509.77 482.61,510.22 483.61,510.67 484.61,511.12 485.61,511.57 486.62,512.02 487.62,512.48 488.62,512.93 489.62,513.39 490.62,513.85 491.63,514.31 492.63,514.77 493.63,515.23 494.63,515.69 495.64,516.15 496.64,516.62 497.64,517.08 498.64,517.55 499.64,518.02 500.65,518.49 501.65,518.96 502.65,519.43 503.65,519.90 504.66,520.37 505.66,520.85 506.66,521.32 507.66,521.80 508.66,522.27 509.67,522.75 510.67,523.23 511.67,523.71 512.67,524.19 513.67,524.68 514.68,525.16 515.68,525.65 516.68,526.13 517.68,526.62 518.69,527.11 519.69,527.60 520.69,528.09 521.69,528.58 522.69,529.07 523.70,529.57 524.70,530.07 525.70,530.56 526.70,531.06 527.71,531.57 528.71,532.07 529.71,532.57 530.71,533.08 531.71,533.59 532.72,534.10 533.72,534.61 534.72,535.13 535.72,535.64 536.72,536.16 537.73,536.68 538.73,537.21 539.73,537.73 540.73,538.26 541.74,538.79 542.74,539.32 543.74,539.86 544.74,540.40 545.74,540.94 546.75,541.48 547.75,542.03 548.75,542.57 549.75,543.12 550.76,543.68 551.76,544.24 552.76,544.80 553.76,545.36 554.76,545.92 555.77,546.49 556.77,547.07 557.77,547.64 558.77,548.22 559.78,548.80 560.78,549.39 561.78,549.98 562.78,550.57 563.78,551.16 564.79,551.76 565.79,552.37 566.79,552.97 567.79,553.58 568.79,554.20 569.80,554.81 570.80,555.43 571.80,556.05 572.80,556.68 573.81,557.31 574.81,557.93 575.81,558.56 576.81,559.20 577.81,559.83 578.82,560.46 579.82,561.10 580.82,561.73 581.82,562.37 582.83,563.01 583.83,563.65 584.83,564.28 585.83,564.92 586.83,565.56 587.84,566.19 588.84,566.83 589.84,567.46 590.84,568.09 591.84,568.72 592.85,569.35 593.85,569.98 594.85,570.60 595.85,571.23 596.86,571.85 597.86,572.50 598.86,573.18 599.86,573.92 600.86,574.72 601.87,575.61 602.87,576.61 603.87,577.72 604.87,578.97 605.88,580.37 606.88,581.92 607.88,583.64 608.88,585.51 609.88,587.53 610.89,589.69 611.89,592.00 612.89,594.43 613.89,596.97 614.90,599.61 615.90,602.33" fill="none" stroke="#2eb82e" stroke-width="4.2" stroke-linecap="round" stroke-linejoin="round"/>
<polyline points="118.60,390.27 120.92,390.96 123.25,391.66 125.57,392.35 127.90,393.03" fill="none" stroke="#0000ff" stroke-width="4.2" stroke-linecap="round" stroke-linejoin="round"/>
<polyline points="141.73,397.07 144.06,397.74 146.38,398.41 148.70,399.08 151.03,399.74" fill="none" stroke="#0000ff" stroke-width="4.2" stroke-linecap="round" stroke-linejoin="round"/>
<polyline points="164.86,403.66 167.19,404.31 169.51,404.96 171.83,405.61 174.16,406.26" fill="none" stroke="#0000ff" stroke-width="4.2" stroke-linecap="round" stroke-linejoin="round"/>
<polyline points="187.99,410.09 190.31,410.74 192.64,411.38 194.97,412.02 197.29,412.66" fill="none" stroke="#0000ff" stroke-width="4.2" stroke-linecap="round" stroke-linejoin="round"/>
<polyline points="204.00,414.50 205.00,414.77 206.00,415.05 207.01,415.32 208.01,415.60 209.01,415.87 210.01,416.15 211.02,416.42 212.02,416.70 213.02,416.97 214.02,417.25 215.02,417.52 216.03,417.80 217.03,418.07 218.03,418.34 219.03,418.62 220.03,418.89 221.04,419.17 222.04,419.44 223.04,419.72 224.04,419.99 225.05,420.27 226.05,420.54 227.05,420.82 228.05,421.09 229.05,421.37 230.06,421.64 231.06,421.92 232.06,422.19 233.06,422.47 234.07,422.75 235.07,423.02 236.07,423.30 237.07,423.57 238.07,423.85 239.08,424.13 240.08,424.40 241.08,424.68 242.08,424.95 243.09,425.23 244.09,425.51 245.09,425.79 246.09,426.06 247.09,426.34 248.10,426.62 249.10,426.90 250.10,427.17 251.10,427.45 252.10,427.73 253.11,428.01 254.11,428.29 255.11,428.57 256.11,428.85 257.12,429.13 258.12,429.41 259.12,429.69 260.12,429.97 261.12,430.25 262.13,430.53 263.13,430.81 264.13,431.09 265.13,431.37 266.14,431.65 267.14,431.94 268.14,432.22 269.14,432.50 270.14,432.79 271.15,433.07 272.15,433.35 273.15,433.64 274.15,433.92 275.16,434.21 276.16,434.49 277.16,434.78 278.16,435.06 279.16,435.35 280.17,435.63 281.17,435.92 282.17,436.21 283.17,436.50 284.17,436.78 285.18,437.07 286.18,437.36 287.18,437.65 288.18,437.94 289.19,438.23 290.19,438.52 291.19,438.81 292.19,439.10 293.19,439.39 294.20,439.69 295.20,439.98 296.20,440.27 297.20,440.57 298.21,440.86 299.21,441.15 300.21,441.45 301.21,441.75 302.21,442.04 303.22,442.34 304.22,442.63 305.22,442.93 306.22,443.23 307.22,443.53 308.23,443.83 309.23,444.13 310.23,444.43 311.23,444.73 312.24,445.03 313.24,445.33 314.24,445.63 315.24,445.94 316.24,446.24 317.25,446.54 318.25,446.85 319.25,447.15 320.25,447.46 321.26,447.76 322.26,448.07 323.26,448.38 324.26,448.69 325.26,449.00 326.27,449.30 327.27,449.61 328.27,449.93 329.27,450.24 330.28,450.55 331.28,450.86 332.28,451.17 333.28,451.49 334.28,451.80 335.29,452.12 336.29,452.43 337.29,452.75 338.29,453.07 339.29,453.39 340.30,453.70 341.30,454.02 342.30,454.34 343.30,454.66 344.31,454.99 345.31,455.31 346.31,455.63 347.31,455.96 348.31,456.28 349.32,456.60 350.32,456.93 351.32,457.26 352.32,457.59 353.33,457.91 354.33,458.24 355.33,458.57 356.33,458.90 357.33,459.23 358.34,459.57 359.34,459.90 360.34,460.23 361.34,460.57 362.34,460.90 363.35,461.24 364.35,461.58 365.35,461.92 366.35,462.25 367.36,462.59 368.36,462.93 369.36,463.28 370.36,463.62 371.36,463.96 372.37,464.31 373.37,464.65 374.37,465.00 375.37,465.34 376.38,465.69 377.38,466.04 378.38,466.39 379.38,466.74 380.38,467.09 381.39,467.44 382.39,467.79 383.39,468.15 384.39,468.50 385.40,468.86 386.40,469.21 387.40,469.57 388.40,469.93 389.40,470.29 390.41,470.65 391.41,471.01 392.41,471.37 393.41,471.73 394.41,472.10 395.42,472.46 396.42,472.83 397.42,473.19 398.42,473.56 399.43,473.93 400.43,474.30 401.43,474.67 402.43,475.04 403.43,475.41 404.44,475.78 405.44,476.16 406.44,476.53 407.44,476.91 408.45,477.28 409.45,477.66 410.45,478.04 411.45,478.42 412.45,478.80 413.46,479.18 414.46,479.56 415.46,479.94 416.46,480.33 417.47,480.71 418.47,481.10 419.47,481.48 420.47,481.87 421.47,482.26 422.48,482.65 423.48,483.04 424.48,483.43 425.48,483.82 426.48,484.22 427.49,484.61 428.49,485.01 429.49,485.40 430.49,485.80 431.50,486.20 432.50,486.60 433.50,487.00 434.50,487.40 435.50,487.80 436.51,488.20 437.51,488.61 438.51,489.01 439.51,489.42 440.52,489.82 441.52,490.23 442.52,490.64 443.52,491.05 444.52,491.46 445.53,491.87 446.53,492.28 447.53,492.70 448.53,493.11 449.53,493.53 450.54,493.95 451.54,494.36 452.54,494.78 453.54,495.20 454.55,495.62 455.55,496.04 456.55,496.47 457.55,496.89 458.55,497.32 459.56,497.74 460.56,498.17 461.56,498.60 462.56,499.02 463.57,499.45 464.57,499.88 465.57,500.32 466.57,500.75 467.57,501.18 468.58,501.62 469.58,502.05 470.58,502.49 471.58,502.93 472.59,503.37 473.59,503.81 474.59,504.25 475.59,504.69 476.59,505.13 477.60,505.58 478.60,506.02 479.60,506.47 480.60,506.92 481.60,507.37 482.61,507.82 483.61,508.27 484.61,508.72 485.61,509.17 486.62,509.62 487.62,510.08 488.62,510.53 489.62,510.99 490.62,511.45 491.63,511.91 492.63,512.37 493.63,512.83 494.63,513.29 495.64,513.75 496.64,514.22 497.64,514.68 498.64,515.15 499.64,515.62 500.65,516.09 501.65,516.56 502.65,517.03 503.65,517.50 504.66,517.97 505.66,518.45 506.66,518.92 507.66,519.40 508.66,519.87 509.67,520.35 510.67,520.83 511.67,521.31 512.67,521.79 513.67,522.28 514.68,522.76 515.68,523.25 516.68,523.73 517.68,524.22 518.69,524.71 519.69,525.20 520.69,525.69 521.69,526.18 522.69,526.67 523.70,527.17 524.70,527.67 525.70,528.16 526.70,528.66 527.71,529.17 528.71,529.67 529.71,530.17 530.71,530.68 531.71,531.19 532.72,531.70 533.72,532.21 534.72,532.73 535.72,533.24 536.72,533.76 537.73,534.28 538.73,534.81 539.73,535.33 540.73,535.86 541.74,536.39 542.74,536.92 543.74,537.46 544.74,538.00 545.74,538.54 546.75,539.08 547.75,539.63 548.75,540.17 549.75,540.72 550.76,541.28 551.76,541.84 552.76,542.40 553.76,542.96 554.76,543.52 555.77,544.09 556.77,544.67 557.77,545.24 558.77,545.82 559.78,546.40 560.78,546.99 561.78,547.58 562.78,548.17 563.78,548.76 564.79,549.36 565.79,549.97 566.79,550.57 567.79,551.18 568.79,551.80 569.80,552.41 570.80,553.03 571.80,553.65 572.80,554.28 573.81,554.91 574.81,555.53 575.81,556.16 576.81,556.80 577.81,557.43 578.82,558.06 579.82,558.70 580.82,559.33 581.82,559.97 582.83,560.61 583.83,561.25 584.83,561.88 585.83,562.52 586.83,563.16 587.84,563.79 588.84,564.43 589.84,565.06 590.84,565.69 591.84,566.32 592.85,566.95 593.85,567.58 594.85,568.20 595.85,568.83 596.86,569.45 597.86,570.10 598.86,570.78 599.86,571.52 600.86,572.32 601.87,573.21 602.87,574.21 603.87,575.32 604.87,576.57 605.88,577.97 606.88,579.52 607.88,581.24 608.88,583.11 609.88,585.13 610.89,587.29 611.89,589.60 612.89,592.03 613.89,594.57 614.90,597.21 615.90,599.93" fill="none" stroke="#0000ff" stroke-width="4.2" stroke-linecap="round" stroke-linejoin="round"/>
<line x1="390.8" y1="709.5" x2="438.3" y2="709.5" stroke="#ff6200" stroke-width="4"/>
<text x="306.5" y="49.8" font-size="24.5" text-anchor="start" font-weight="bold" fill="#000" stroke="#000" stroke-width="0.1" textLength="137.5" lengthAdjust="spacingAndGlyphs">Derating Curve</text>
<text x="123.5" y="79.5" font-size="23.5" text-anchor="start" font-weight="normal" fill="#000" stroke="#000" stroke-width="0.4" textLength="503.5" lengthAdjust="spacingAndGlyphs">1-conductor female connector (2721-202/026-000) with</text>
<text x="209.0" y="110.5" font-size="23.5" text-anchor="start" font-weight="normal" fill="#000" stroke="#000" stroke-width="0.4" textLength="330.5" lengthAdjust="spacingAndGlyphs">THT male header (721-262/001-000)</text>
<text x="102.5" y="140.7" font-size="23.5" text-anchor="start" font-weight="normal" fill="#000" stroke="#000" stroke-width="0.4" textLength="545.5" lengthAdjust="spacingAndGlyphs">Pin spacing: 7.5 mm / Conductor cross-section: 2.5 mm<tspan dy="-9" font-size="14">2</tspan><tspan dy="9"> "f-st"</tspan></text>
<text x="164.5" y="170.9" font-size="23.5" text-anchor="start" font-weight="normal" fill="#000" stroke="#000" stroke-width="0.4" textLength="420.0" lengthAdjust="spacingAndGlyphs">Based on: EN 60512-5-2 / Reduction factor: 0.8</text>
<text x="88.0" y="221.7" font-size="23.5" text-anchor="start" font-weight="normal" fill="#000" stroke="#000" stroke-width="0.4" textLength="105.5" lengthAdjust="spacingAndGlyphs">Current in A</text>
<text x="109.8" y="528.5" font-size="23.5" text-anchor="end" font-weight="normal" fill="#000" stroke="#000" stroke-width="0.4" textLength="18.8" lengthAdjust="spacingAndGlyphs">10</text>
<text x="109.8" y="489.5" font-size="23.5" text-anchor="end" font-weight="normal" fill="#000" stroke="#000" stroke-width="0.4" textLength="18.8" lengthAdjust="spacingAndGlyphs">15</text>
<text x="109.8" y="450.5" font-size="23.5" text-anchor="end" font-weight="normal" fill="#000" stroke="#000" stroke-width="0.4" textLength="18.8" lengthAdjust="spacingAndGlyphs">20</text>
<text x="109.8" y="411.5" font-size="23.5" text-anchor="end" font-weight="normal" fill="#000" stroke="#000" stroke-width="0.4" textLength="18.8" lengthAdjust="spacingAndGlyphs">25</text>
<text x="109.8" y="372.0" font-size="23.5" text-anchor="end" font-weight="normal" fill="#000" stroke="#000" stroke-width="0.4" textLength="18.8" lengthAdjust="spacingAndGlyphs">30</text>
<text x="109.8" y="333.0" font-size="23.5" text-anchor="end" font-weight="normal" fill="#000" stroke="#000" stroke-width="0.4" textLength="18.8" lengthAdjust="spacingAndGlyphs">35</text>
<text x="109.8" y="294.0" font-size="23.5" text-anchor="end" font-weight="normal" fill="#000" stroke="#000" stroke-width="0.4" textLength="18.8" lengthAdjust="spacingAndGlyphs">40</text>
<text x="109.8" y="255.0" font-size="23.5" text-anchor="end" font-weight="normal" fill="#000" stroke="#000" stroke-width="0.4" textLength="18.8" lengthAdjust="spacingAndGlyphs">45</text>
<text x="102.2" y="567.5" font-size="23.5" text-anchor="middle" font-weight="normal" fill="#000" stroke="#000" stroke-width="0.4" textLength="9.6" lengthAdjust="spacingAndGlyphs">5</text>
<text x="106.9" y="613.8" font-size="23.5" text-anchor="middle" font-weight="normal" fill="#000" stroke="#000" stroke-width="0.4" textLength="9.6" lengthAdjust="spacingAndGlyphs">0</text>
<text x="168.14" y="623.2" font-size="23.5" text-anchor="middle" font-weight="normal" fill="#000" stroke="#000" stroke-width="0.4" textLength="18.4" lengthAdjust="spacingAndGlyphs">10</text>
<text x="217.88" y="623.2" font-size="23.5" text-anchor="middle" font-weight="normal" fill="#000" stroke="#000" stroke-width="0.4" textLength="18.4" lengthAdjust="spacingAndGlyphs">20</text>
<text x="267.62" y="623.2" font-size="23.5" text-anchor="middle" font-weight="normal" fill="#000" stroke="#000" stroke-width="0.4" textLength="18.4" lengthAdjust="spacingAndGlyphs">30</text>
<text x="317.36" y="623.2" font-size="23.5" text-anchor="middle" font-weight="normal" fill="#000" stroke="#000" stroke-width="0.4" textLength="18.4" lengthAdjust="spacingAndGlyphs">40</text>
<text x="367.10" y="623.2" font-size="23.5" text-anchor="middle" font-weight="normal" fill="#000" stroke="#000" stroke-width="0.4" textLength="18.4" lengthAdjust="spacingAndGlyphs">50</text>
<text x="416.84" y="623.2" font-size="23.5" text-anchor="middle" font-weight="normal" fill="#000" stroke="#000" stroke-width="0.4" textLength="18.4" lengthAdjust="spacingAndGlyphs">60</text>
<text x="466.58" y="623.2" font-size="23.5" text-anchor="middle" font-weight="normal" fill="#000" stroke="#000" stroke-width="0.4" textLength="18.4" lengthAdjust="spacingAndGlyphs">70</text>
<text x="516.32" y="623.2" font-size="23.5" text-anchor="middle" font-weight="normal" fill="#000" stroke="#000" stroke-width="0.4" textLength="18.4" lengthAdjust="spacingAndGlyphs">80</text>
<text x="566.06" y="623.2" font-size="23.5" text-anchor="middle" font-weight="normal" fill="#000" stroke="#000" stroke-width="0.4" textLength="18.4" lengthAdjust="spacingAndGlyphs">90</text>
<text x="611.30" y="623.2" font-size="23.5" text-anchor="middle" font-weight="normal" fill="#000" stroke="#000" stroke-width="0.4" textLength="28.0" lengthAdjust="spacingAndGlyphs">100</text>
<text x="646.4" y="623.2" font-size="23.5" text-anchor="middle" font-weight="normal" fill="#000" stroke="#000" stroke-width="0.4" textLength="27.5" lengthAdjust="spacingAndGlyphs">105</text>
<text x="340.30" y="658.5" font-size="23.5" text-anchor="start" font-weight="normal" fill="#000" stroke="#000" stroke-width="0.4" textLength="164.21" lengthAdjust="spacingAndGlyphs">Ambient operating</text>
<text x="510.70" y="658.5" font-size="23.5" text-anchor="start" font-weight="normal" fill="#000" stroke="#000" stroke-width="0.4" textLength="153.59" lengthAdjust="spacingAndGlyphs">temperature in °C</text>
<text x="116.8" y="717.5" font-size="23.5" stroke-width="0.4" stroke="currentColor" textLength="157.5" lengthAdjust="spacingAndGlyphs"><tspan fill="#ff1a1a" stroke="#ff1a1a">2-,</tspan> <tspan fill="#80f2cc" stroke="#80f2cc">4-,</tspan> <tspan fill="#44ee11" stroke="#44ee11">6-,</tspan> <tspan fill="#1a1aff" stroke="#1a1aff">12-</tspan> <tspan fill="#000" stroke="#000">pole</tspan></text>
<text x="451.5" y="716.9" font-size="23.5" text-anchor="start" font-weight="normal" fill="#000" stroke="#000" stroke-width="0.4" textLength="213.0" lengthAdjust="spacingAndGlyphs">Conductor rated current</text>
</svg>
</body></html>
